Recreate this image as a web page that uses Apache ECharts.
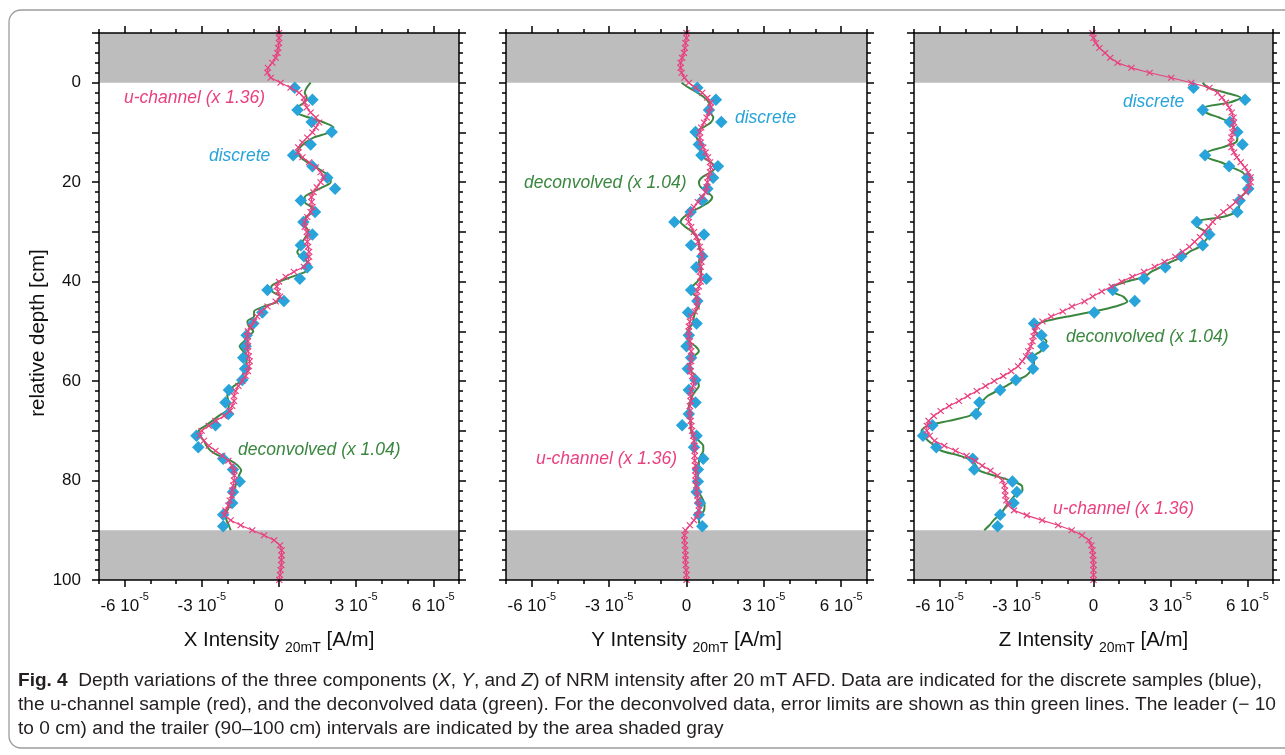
<!DOCTYPE html>
<html>
<head>
<meta charset="utf-8">
<title>Fig. 4 - NRM intensity depth profiles</title>
<script src="https://cdn.jsdelivr.net/npm/echarts@6/dist/echarts.min.js"></script>
<style>
  html, body { margin: 0; padding: 0; background: #fff; }
  #chart { width: 1285px; height: 755px; }
</style>
</head>
<body>
<div id="chart"></div>
<script>
// depth in cm, intensities in units of 1e-5 A/m
var uDepth = [-10, -9, -8, -7, -6, -5, -4, -3, -2, -1,
  0, 1, 2, 3, 4, 5, 6, 7, 8, 9, 10, 11, 12, 13, 14, 15, 16, 17, 18, 19,
  20, 21, 22, 23, 24, 25, 26, 27, 28, 29, 30, 31, 32, 33, 34, 35, 36, 37, 38, 39,
  40, 41, 42, 43, 44, 45, 46, 47, 48, 49, 50, 51, 52, 53, 54, 55, 56, 57, 58, 59,
  60, 61, 62, 63, 64, 65, 66, 67, 68, 69, 70, 71, 72, 73, 74, 75, 76, 77, 78, 79,
  80, 81, 82, 83, 84, 85, 86, 87, 88, 89, 90, 91, 92, 93, 94, 95, 96, 97, 98, 99, 100];
var decDepth = uDepth.slice(10, 101); // deconvolved data only 0-90 cm
var discDepth = [1.0, 3.4, 5.5, 7.9, 9.9, 12.4, 14.6, 16.8, 19.1, 21.3,
  23.7, 26.0, 28.0, 30.5, 32.7, 34.9, 37.1, 39.4, 41.7, 43.9,
  46.2, 48.4, 50.8, 53.0, 55.3, 57.5, 59.8, 61.8, 64.3, 66.6,
  68.9, 71.0, 73.3, 75.6, 77.8, 80.2, 82.3, 84.5, 86.9, 89.2];

// X component
var xU = [0, 0, 0, -0.03, -0.06, -0.13, -0.26, -0.43, -0.45, -0.32,
  0.06, 0.45, 0.78, 0.97, 1.0, 1.08, 1.23, 1.43, 1.56, 1.43,
  1.30, 1.10, 0.91, 0.75, 0.75, 0.91, 1.17, 1.43, 1.62, 1.73,
  1.62, 1.47, 1.34, 1.26, 1.27, 1.30, 1.23, 1.10, 1.0, 1.0,
  1.08, 1.10, 1.10, 1.13, 1.17, 1.17, 1.13, 0.97, 0.58, 0.26,
  0, -0.09, -0.04, 0.04, -0.13, -0.45, -0.70, -0.85, -0.97, -1.10,
  -1.21, -1.23, -1.21, -1.21, -1.21, -1.17, -1.14, -1.17, -1.21, -1.30,
  -1.43, -1.58, -1.69, -1.75, -1.75, -1.82, -1.91, -2.14, -2.47, -2.73,
  -3.01, -3.08, -2.92, -2.73, -2.47, -2.21, -1.97, -1.82, -1.75, -1.73,
  -1.75, -1.78, -1.82, -1.84, -1.91, -1.97, -2.08, -2.12, -1.88, -1.49,
  -1.04, -0.58, -0.19, 0.04, 0.10, 0.10, 0.09, 0.09, 0.06, 0.04, 0.01];
var xDec = [1.23, 1.08, 1.0, 1.08, 0.97, 0.71, 0.69, 1.17, 1.75, 2.12,
  1.95, 1.36, 1.04, 0.82, 0.71, 0.84, 1.10, 1.43, 1.75, 2.01,
  2.01, 1.69, 1.30, 1.0, 1.0, 1.26, 1.30, 1.04, 0.91, 1.04,
  1.17, 1.04, 0.91, 0.84, 0.71, 0.84, 1.10, 1.23, 1.04, 0.52,
  0, -0.30, -0.26, 0.04, -0.06, -0.58, -0.97, -0.97, -1.23, -1.17,
  -1.0, -1.17, -1.36, -1.53, -1.39, -1.23, -1.26, -1.30, -1.36, -1.43,
  -1.49, -1.75, -1.97, -2.01, -1.97, -1.95, -2.04, -2.34, -2.60, -2.86,
  -3.12, -3.08, -2.92, -2.82, -2.66, -2.34, -1.88, -1.60, -1.47, -1.56,
  -1.60, -1.69, -1.75, -1.82, -1.88, -1.91, -2.01, -2.08, -2.04, -1.95,
  -1.88];
var xDisc = [0.61, 1.30, 0.72, 1.27, 2.05, 1.23, 0.55, 1.30, 1.88, 2.18,
  0.85, 1.40, 0.95, 1.30, 0.85, 0.97, 1.10, 0.81, -0.45, 0.19,
  -0.65, -1.00, -1.26, -1.30, -1.39, -1.32, -1.43, -1.95, -2.08, -1.97,
  -2.47, -3.21, -3.14, -2.17, -1.79, -1.53, -1.79, -1.82, -2.17, -2.17];

// Y component
var yU = [0, 0, -0.04, -0.06, -0.10, -0.17, -0.23, -0.23, -0.19, -0.08,
  0.09, 0.35, 0.61, 0.81, 0.94, 0.94, 0.87, 0.78, 0.68, 0.57,
  0.52, 0.52, 0.55, 0.65, 0.74, 0.83, 0.91, 0.94, 0.91, 0.84,
  0.81, 0.78, 0.74, 0.61, 0.44, 0.29, 0.16, 0.06, 0.09, 0.18,
  0.29, 0.39, 0.45, 0.52, 0.57, 0.61, 0.58, 0.55, 0.52, 0.55,
  0.55, 0.48, 0.42, 0.39, 0.43, 0.40, 0.32, 0.18, 0.13, 0.09,
  0.09, 0.09, 0.13, 0.16, 0.18, 0.18, 0.18, 0.13, 0.16, 0.22,
  0.29, 0.26, 0.18, 0.16, 0.16, 0.13, 0.13, 0.13, 0.16, 0.19,
  0.22, 0.26, 0.29, 0.31, 0.32, 0.32, 0.32, 0.35, 0.35, 0.35,
  0.36, 0.38, 0.39, 0.42, 0.44, 0.48, 0.48, 0.42, 0.29, 0.13,
  -0.04, -0.08, -0.08, -0.06, -0.05, -0.04, -0.04, -0.03, -0.01, 0, 0];
var yDec = [-0.19, 0.09, 0.42, 0.70, 0.87, 0.94, 0.94, 1.04, 0.94, 0.65,
  0.35, 0.39, 0.48, 0.55, 0.52, 0.65, 0.94, 1.13, 0.94, 0.61,
  0.48, 0.55, 0.81, 1.00, 0.87, 0.55, 0.19, -0.10, -0.23, -0.04,
  0.22, 0.39, 0.48, 0.48, 0.55, 0.55, 0.48, 0.55, 0.57, 0.55,
  0.42, 0.22, 0.16, 0.39, 0.48, 0.48, 0.35, 0.29, 0.26, 0.16,
  0.03, 0, 0.09, 0.35, 0.48, 0.29, 0.16, 0.09, 0.18, 0.35,
  0.44, 0.48, 0.35, 0.22, 0.16, 0.09, 0.09, 0.13, 0.16, 0.16,
  0.18, 0.29, 0.48, 0.65, 0.65, 0.55, 0.48, 0.48, 0.48, 0.44,
  0.39, 0.35, 0.39, 0.55, 0.65, 0.70, 0.68, 0.55, 0.48, 0.52,
  0.61];
var yDisc = [0.42, 1.14, 0.87, 1.35, 0.35, 0.48, 0.58, 1.22, 1.03, 0.81,
  0.61, 0.16, -0.47, 0.68, 0.18, 0.61, 0.38, 0.77, 0.18, 0.42,
  0.06, 0.39, 0.09, 0, 0.18, 0.05, 0.35, 0.09, 0.35, 0.09,
  -0.17, 0.39, 0.29, 0.65, 0.44, 0.44, 0.39, 0.52, 0.48, 0.61];

// Z component
var zU = [-0.04, 0, 0.09, 0.23, 0.45, 0.65, 0.94, 1.48, 2.19, 3.03,
  3.81, 4.52, 4.84, 5.01, 5.16, 5.29, 5.39, 5.46, 5.48, 5.46,
  5.42, 5.38, 5.35, 5.38, 5.48, 5.59, 5.74, 5.90, 6.03, 6.13,
  6.13, 6.06, 5.94, 5.74, 5.55, 5.32, 5.07, 4.84, 4.65, 4.49,
  4.32, 4.15, 3.94, 3.74, 3.48, 3.19, 2.77, 2.39, 1.97, 1.52,
  1.10, 0.71, 0.32, -0.03, -0.35, -0.84, -1.20, -1.65, -1.99, -2.20,
  -2.29, -2.34, -2.38, -2.45, -2.54, -2.63, -2.78, -2.94, -3.21, -3.52,
  -3.87, -4.21, -4.55, -4.91, -5.25, -5.63, -5.96, -6.23, -6.43, -6.50,
  -6.50, -6.39, -6.20, -5.82, -5.38, -4.95, -4.62, -4.34, -4.02, -3.74,
  -3.55, -3.47, -3.45, -3.44, -3.40, -3.32, -3.10, -2.60, -2.00, -1.38,
  -0.85, -0.45, -0.18, -0.08, -0.04, -0.02, -0.01, 0, 0, 0, 0];
var zDec = [4.26, 4.45, 5.16, 5.74, 5.29, 4.32, 4.39, 4.90, 5.32, 5.46,
  5.55, 5.61, 5.55, 5.03, 4.45, 4.45, 4.97, 5.39, 5.81, 5.96,
  6.04, 6.04, 5.94, 5.74, 5.68, 5.68, 5.55, 5.03, 3.97, 4.06,
  4.39, 4.45, 4.32, 4.13, 3.74, 3.48, 3.03, 2.65, 2.26, 2.00,
  1.29, 0.77, 0.75, 1.16, 1.32, 0.85, 0.0, -1.0, -1.9, -2.35,
  -2.28, -2.06, -1.83, -1.96, -2.06, -2.32, -2.32, -2.32, -2.45, -2.65,
  -3.07, -3.42, -3.77, -4.13, -4.32, -4.43, -4.54, -4.84, -5.64, -6.48,
  -6.71, -6.62, -6.45, -6.19, -5.94, -5.23, -4.71, -4.58, -4.45, -3.87,
  -3.23, -2.80, -2.77, -3.07, -3.23, -3.39, -3.52, -3.68, -3.90, -4.06,
  -4.26];
var zDisc = [3.90, 5.91, 4.26, 5.32, 5.61, 5.81, 4.35, 5.29, 6.0, 6.04,
  5.70, 5.61, 4.03, 4.52, 4.26, 3.42, 2.80, 1.97, 0.75, 1.61,
  0.03, -2.32, -2.03, -1.96, -2.39, -2.36, -3.03, -3.64, -4.45, -4.58,
  -6.28, -6.65, -6.13, -4.71, -4.65, -3.16, -2.99, -3.12, -3.64, -3.74];

var xTickLabels = [-6, -3, 0, 3, 6];   // shown as "n 10^-5"
var panelNames = ['X', 'Y', 'Z'];

var PINK = '#e9407f';
var BLUE = '#28a4da';
var GREEN = '#3a873f';
var BAND = '#bdbdbd';
var FONT = '"Liberation Sans", Arial, sans-serif';

var grids = [
  { left: 99, top: 33, width: 360, height: 547 },
  { left: 506, top: 33, width: 361, height: 547 },
  { left: 914, top: 33, width: 359, height: 547 }
];

function pairs(vals, depths) {
  return vals.map(function (v, k) { return [v, depths[k]]; });
}

var tickStyle = { color: '#000', width: 1.5 };
var xAxes = [];
var yAxes = [];

grids.forEach(function (g, i) {
  // bottom, with labels and major ticks
  xAxes.push({
    gridIndex: i, type: 'value', min: -7, max: 7, position: 'bottom', z: 10,
    axisLine: { show: true, onZero: false, lineStyle: tickStyle },
    axisTick: { show: true, length: 7, customValues: xTickLabels, lineStyle: tickStyle },
    axisLabel: {
      show: true, customValues: xTickLabels, margin: 10, color: '#111',
      formatter: function (v) {
        return v === 0 ? '{n|0}' : '{n|' + v + ' 10}{s|-5}';
      },
      rich: {
        n: { fontSize: 17, fontFamily: FONT, lineHeight: 17, verticalAlign: 'top', padding: [8, 0, 0, 0], color: '#111' },
        s: { fontSize: 11, fontFamily: FONT, lineHeight: 11, verticalAlign: 'top', padding: [1, 0, 0, 0], color: '#111' }
      }
    },
    splitLine: { show: false },
    name: '{t|' + panelNames[i] + ' Intensity }{b|20mT}{t| [A/m]}',
    nameLocation: 'middle', nameGap: 50,
    nameTextStyle: {
      rich: {
        t: { fontSize: 20.5, fontFamily: FONT, lineHeight: 21, verticalAlign: 'top', color: '#111' },
        b: { fontSize: 14, fontFamily: FONT, lineHeight: 14, verticalAlign: 'top', padding: [11, 0, 0, 0], color: '#111' }
      }
    }
  });
  // bottom minor ticks
  xAxes.push({
    gridIndex: i, type: 'value', min: -7, max: 7, interval: 1, position: 'bottom', z: 10,
    axisLine: { show: false, onZero: false },
    axisTick: { show: true, length: 4, lineStyle: tickStyle },
    axisLabel: { show: false }, splitLine: { show: false }
  });
  // top mirror
  xAxes.push({
    gridIndex: i, type: 'value', min: -7, max: 7, position: 'top', z: 10,
    axisLine: { show: true, onZero: false, lineStyle: tickStyle },
    axisTick: { show: true, length: 7, customValues: xTickLabels, lineStyle: tickStyle },
    axisLabel: { show: false }, splitLine: { show: false }
  });
  xAxes.push({
    gridIndex: i, type: 'value', min: -7, max: 7, interval: 1, position: 'top', z: 10,
    axisLine: { show: false, onZero: false },
    axisTick: { show: true, length: 4, lineStyle: tickStyle },
    axisLabel: { show: false }, splitLine: { show: false }
  });

  // depth axes
  yAxes.push({
    gridIndex: i, type: 'value', inverse: true, min: -10, max: 100, interval: 10, position: 'left', z: 10,
    axisLine: { show: true, onZero: false, lineStyle: tickStyle },
    axisTick: { show: true, length: 7, lineStyle: tickStyle },
    axisLabel: {
      show: i === 0, margin: 18, fontSize: 17, fontFamily: FONT, color: '#111',
      formatter: function (v) { return (v >= 0 && v % 20 === 0) ? String(v) : ''; }
    },
    splitLine: { show: false }
  });
  yAxes.push({
    gridIndex: i, type: 'value', inverse: true, min: -10, max: 100, interval: 2, position: 'left', z: 10,
    axisLine: { show: false, onZero: false },
    axisTick: { show: true, length: 4, lineStyle: tickStyle },
    axisLabel: { show: false }, splitLine: { show: false }
  });
  yAxes.push({
    gridIndex: i, type: 'value', inverse: true, min: -10, max: 100, interval: 10, position: 'right', z: 10,
    axisLine: { show: true, onZero: false, lineStyle: tickStyle },
    axisTick: { show: true, length: 7, lineStyle: tickStyle },
    axisLabel: { show: false }, splitLine: { show: false }
  });
  yAxes.push({
    gridIndex: i, type: 'value', inverse: true, min: -10, max: 100, interval: 2, position: 'right', z: 10,
    axisLine: { show: false, onZero: false },
    axisTick: { show: true, length: 4, lineStyle: tickStyle },
    axisLabel: { show: false }, splitLine: { show: false }
  });
});

var crossSymbol = 'path://M0,1.2L1.2,0L5,3.8L8.8,0L10,1.2L6.2,5L10,8.8L8.8,10L5,6.2L1.2,10L0,8.8L3.8,5Z';

var panels = [
  { u: xU, dec: xDec, disc: xDisc },
  { u: yU, dec: yDec, disc: yDisc },
  { u: zU, dec: zDec, disc: zDisc }
];

var series = [];
panels.forEach(function (p, i) {
  series.push({
    name: 'deconvolved', type: 'line', xAxisIndex: i * 4, yAxisIndex: i * 4,
    data: pairs(p.dec, decDepth), symbol: 'none', smooth: 0.25, z: 2,
    lineStyle: { color: GREEN, width: 2 },
    markArea: {
      silent: true, itemStyle: { color: BAND, opacity: 1 },
      data: [[{ yAxis: -10 }, { yAxis: 0 }], [{ yAxis: 90 }, { yAxis: 100 }]]
    }
  });
  series.push({
    name: 'discrete', type: 'scatter', xAxisIndex: i * 4, yAxisIndex: i * 4,
    data: pairs(p.disc, discDepth), symbol: 'diamond', symbolSize: 12.5, z: 3,
    itemStyle: { color: BLUE, opacity: 1 }
  });
  series.push({
    name: 'u-channel', type: 'line', xAxisIndex: i * 4, yAxisIndex: i * 4,
    data: pairs(p.u, uDepth), symbol: crossSymbol, symbolSize: [7, 6.5], showSymbol: true, z: 4,
    lineStyle: { color: PINK, width: 1.2 }, itemStyle: { color: PINK }
  });
});

// in-plot labels
var notes = [
  ['u-channel (x 1.36)', PINK, 124, 98],
  ['discrete', BLUE, 209, 156],
  ['deconvolved (x 1.04)', GREEN, 238, 450],
  ['discrete', BLUE, 735, 118],
  ['deconvolved (x 1.04)', GREEN, 524, 183],
  ['u-channel (x 1.36)', PINK, 536, 459],
  ['discrete', BLUE, 1123, 102],
  ['deconvolved (x 1.04)', GREEN, 1066, 337],
  ['u-channel (x 1.36)', PINK, 1053, 509]
];

// caption
var capCanvas = document.createElement('canvas').getContext('2d');
function textW(font, txt) { capCanvas.font = font; return capCanvas.measureText(txt).width; }
var capSize = 18;
var capFonts = {
  n: capSize + 'px ' + FONT,
  b: 'bold ' + capSize + 'px ' + FONT,
  i: 'italic ' + capSize + 'px ' + FONT
};
var capLines = [
  [['b', 'Fig. 4'], ['n', '  Depth variations of the three components ('], ['i', 'X'], ['n', ', '], ['i', 'Y'],
    ['n', ', and '], ['i', 'Z'], ['n', ') of NRM intensity after 20 mT AFD. Data are indicated for the discrete samples (blue),']],
  [['n', 'the u-channel sample (red), and the deconvolved data (green). For the deconvolved data, error limits are shown as thin green lines. The leader (\u2212 10']],
  [['n', 'to 0 cm) and the trailer (90\u2013100 cm) intervals are indicated by the area shaded gray']]
];
var capTargets = [1244, 1258, null];
var capY = [681, 705, 729];

var graphics = [{
  type: 'rect', silent: true, z: -1,
  shape: { x: 9, y: 10, width: 1300, height: 738, r: 12 },
  style: { fill: 'none', stroke: '#9c9c9c', lineWidth: 1.3 }
}, {
  type: 'text', x: 38, y: 333, rotation: Math.PI / 2,
  style: { text: 'relative depth [cm]', font: '20.5px ' + FONT, fill: '#111', align: 'center', verticalAlign: 'middle' }
}];

notes.forEach(function (n) {
  graphics.push({
    type: 'text', x: n[2], y: n[3], z: 20,
    style: { text: n[0], font: 'italic 17.5px ' + FONT, fill: n[1], align: 'left', verticalAlign: 'middle' }
  });
});

var scales = [];
capLines.forEach(function (line, k) {
  var w = 0;
  line.forEach(function (seg) { w += textW(capFonts[seg[0]], seg[1]); });
  scales.push(capTargets[k] ? capTargets[k] / w : null);
});
scales[2] = (scales[0] + scales[1]) / 2;

capLines.forEach(function (line, k) {
  var txt = line.map(function (seg) { return '{' + seg[0] + '|' + seg[1] + '}'; }).join('');
  graphics.push({
    type: 'text', x: 18, y: capY[k], scaleX: scales[k],
    style: {
      text: txt, fill: '#231f20', align: 'left', verticalAlign: 'middle',
      rich: {
        n: { fontSize: capSize, fontFamily: FONT, fill: '#231f20' },
        b: { fontSize: capSize, fontFamily: FONT, fontWeight: 'bold', fill: '#231f20' },
        i: { fontSize: capSize, fontFamily: FONT, fontStyle: 'italic', fill: '#231f20' }
      }
    }
  });
});

var chart = echarts.init(document.getElementById('chart'), null, { renderer: 'canvas' });
chart.setOption({
  animation: false,
  backgroundColor: '#fff',
  grid: grids,
  xAxis: xAxes,
  yAxis: yAxes,
  series: series,
  graphic: graphics
});
</script>
</body>
</html>
